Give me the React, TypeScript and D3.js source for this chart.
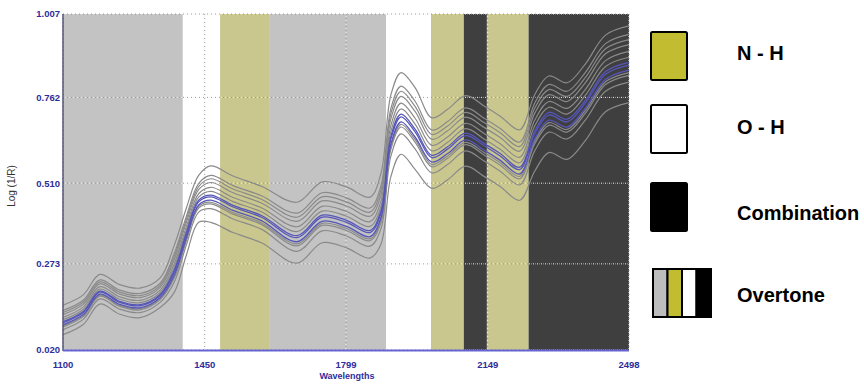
import React, { useRef, useEffect } from "react";
import * as d3 from "d3";

// wavelength grid (nm) shared by all spectra
const wavelengths = [
  1100, 1150, 1191, 1240, 1290, 1340, 1375, 1405, 1435, 1465, 1520, 1590, 1678, 1740, 1800, 1858,
  1885, 1910, 1935, 1970, 2011, 2050, 2095, 2140, 2180, 2228, 2265, 2300, 2345, 2390, 2440, 2498,
];

// gray spectra (top to bottom)
const specA = [.152, .182, .242, .212, .202, .232, .328, .438, .533, .561, .531, .501, .454, .514, .499, .469, .537, .770, .835, .790, .702, .727, .767, .737, .707, .667, .770, .825, .805, .860, .945, .972];
const specB = [.136, .166, .226, .196, .186, .216, .304, .414, .509, .533, .503, .473, .422, .482, .467, .437, .501, .730, .795, .750, .666, .691, .731, .701, .671, .631, .745, .800, .780, .835, .920, .947];
const specK = [.130, .160, .220, .190, .180, .210, .295, .405, .500, .523, .493, .463, .410, .470, .455, .425, .488, .715, .780, .735, .653, .678, .718, .688, .658, .618, .730, .785, .765, .820, .905, .932];
const specC = [.124, .154, .214, .184, .174, .204, .286, .396, .491, .512, .482, .452, .398, .458, .443, .413, .474, .700, .765, .720, .639, .664, .704, .674, .644, .604, .715, .770, .750, .805, .890, .917];
const specD = [.116, .146, .206, .176, .166, .196, .274, .384, .479, .498, .468, .438, .382, .442, .427, .397, .456, .680, .745, .700, .621, .646, .686, .656, .626, .586, .695, .750, .730, .785, .870, .897];
const specE = [.109, .139, .199, .169, .159, .189, .264, .374, .469, .486, .456, .426, .368, .428, .413, .383, .440, .663, .728, .683, .605, .630, .670, .640, .610, .570, .678, .733, .713, .768, .853, .880];
const specN = [.091, .121, .181, .151, .141, .171, .237, .347, .442, .454, .424, .394, .332, .392, .377, .347, .400, .618, .683, .638, .565, .590, .630, .600, .570, .530, .633, .688, .668, .723, .808, .835];
const specH = [.088, .118, .178, .148, .138, .168, .232, .342, .437, .449, .419, .389, .326, .386, .371, .341, .393, .610, .675, .630, .558, .583, .623, .593, .563, .523, .625, .680, .660, .715, .800, .827];
const specI = [.080, .110, .170, .140, .130, .160, .220, .330, .425, .435, .405, .375, .310, .370, .355, .325, .375, .590, .655, .610, .540, .565, .605, .575, .545, .505, .605, .660, .640, .695, .780, .807];
const specJ = [.065, .095, .155, .125, .115, .145, .190, .300, .395, .395, .365, .335, .275, .335, .320, .290, .330, .530, .595, .550, .495, .520, .560, .530, .500, .460, .545, .600, .580, .635, .720, .747];

// blue spectra (around the mean)
const specF = [.103, .133, .193, .163, .153, .183, .255, .365, .460, .475, .445, .415, .356, .416, .401, .371, .427, .648, .713, .668, .592, .617, .657, .627, .597, .557, .663, .718, .698, .753, .838, .865];
const specM = [.100, .130, .190, .160, .150, .180, .250, .360, .455, .470, .440, .410, .350, .410, .395, .365, .420, .640, .705, .660, .585, .610, .650, .620, .590, .550, .655, .710, .690, .745, .830, .857];
const specG = [.094, .124, .184, .154, .144, .174, .241, .351, .446, .460, .430, .400, .338, .398, .383, .353, .407, .625, .690, .645, .572, .597, .637, .607, .577, .537, .640, .695, .675, .730, .815, .842];

const graySpectra = [specA, specB, specK, specC, specD, specE, specN, specH, specI, specJ];
const blueSpectra = [specF, specM, specG];

// absorption bands
const bandStarts = [1100, 1396, 1488, 1609, 1898, 2009, 2090, 2147, 2250];
const bandEnds = [1396, 1488, 1609, 1898, 2009, 2090, 2147, 2250, 2498];
const bandTypes = ["overtone", "oh", "nh", "overtone", "oh", "nh", "comb", "nh", "comb"];

const xTicks = [1100, 1450, 1799, 2149, 2498];
const yTicks = [0.02, 0.273, 0.51, 0.762, 1.007];

const legendLabels = ["N - H", "O - H", "Combination", "Overtone"];

const bandColor = { overtone: "#c3c3c3", oh: "#ffffff", nh: "#c9c78d", comb: "#3f3f3f" };

const App = () => {
  const ref = useRef(null);
  const width = 864;
  const height = 384;

  useEffect(() => {
    d3.select(ref.current).select("svg").remove();

    const svg = d3
      .select(ref.current)
      .append("svg")
      .attr("width", width)
      .attr("height", height)
      .style("display", "block")
      .style("background", "#fff");

    const x = d3.scaleLinear().domain([1100, 2498]).range([63, 629]);
    const y = d3.scaleLinear().domain([0.02, 1.007]).range([350, 14]);

    // bands
    svg
      .selectAll("rect.band")
      .data(bandTypes)
      .join("rect")
      .attr("class", "band")
      .attr("x", (d, i) => x(bandStarts[i]))
      .attr("width", (d, i) => x(bandEnds[i]) - x(bandStarts[i]))
      .attr("y", y(1.007))
      .attr("height", y(0.02) - y(1.007))
      .attr("fill", (d) => bandColor[d]);

    // dotted grid (gray + white so it shows on every band)
    const grid = svg.append("g");
    ["#9a9a9a", "#f2f2f2"].forEach((c, k) => {
      grid
        .selectAll(`line.h${k}`)
        .data(yTicks)
        .join("line")
        .attr("class", `h${k}`)
        .attr("x1", 63)
        .attr("x2", 629)
        .attr("y1", (d) => y(d))
        .attr("y2", (d) => y(d))
        .attr("stroke", c)
        .attr("stroke-width", 1)
        .attr("stroke-dasharray", "1,3")
        .attr("stroke-dashoffset", k * 2);
      grid
        .selectAll(`line.v${k}`)
        .data(xTicks)
        .join("line")
        .attr("class", `v${k}`)
        .attr("x1", (d) => x(d))
        .attr("x2", (d) => x(d))
        .attr("y1", 14)
        .attr("y2", 350)
        .attr("stroke", c)
        .attr("stroke-width", 1)
        .attr("stroke-dasharray", "1,3")
        .attr("stroke-dashoffset", k * 2);
    });

    // spectra
    svg
      .append("clipPath")
      .attr("id", "plotclip")
      .append("rect")
      .attr("x", 63)
      .attr("y", 14)
      .attr("width", 566)
      .attr("height", 336);

    const line = d3
      .line()
      .x((d, i) => x(wavelengths[i]))
      .y((d) => y(d))
      .curve(d3.curveCatmullRom.alpha(0.5));

    const lines = svg.append("g").attr("clip-path", "url(#plotclip)");
    lines
      .selectAll("path.gray")
      .data(graySpectra)
      .join("path")
      .attr("class", "gray")
      .attr("d", line)
      .attr("fill", "none")
      .attr("stroke", "#8a8a8a")
      .attr("stroke-width", 1.2);
    lines
      .selectAll("path.blue")
      .data(blueSpectra)
      .join("path")
      .attr("class", "blue")
      .attr("d", line)
      .attr("fill", "none")
      .attr("stroke", "#5656b8")
      .attr("stroke-width", 1.3);

    // axes lines
    svg
      .append("line")
      .attr("x1", 63)
      .attr("x2", 63)
      .attr("y1", 14)
      .attr("y2", 351)
      .attr("stroke", "#55557a")
      .attr("stroke-width", 1.5);
    svg
      .append("line")
      .attr("x1", 63)
      .attr("x2", 629)
      .attr("y1", 350.5)
      .attr("y2", 350.5)
      .attr("stroke", "#6464d2")
      .attr("stroke-width", 2);

    const tickFont = "'Liberation Sans', Arial, sans-serif";
    svg
      .selectAll("text.ytick")
      .data(yTicks)
      .join("text")
      .attr("class", "ytick")
      .attr("x", 60)
      .attr("y", (d) => y(d))
      .attr("dy", "0.35em")
      .attr("text-anchor", "end")
      .attr("font-family", tickFont)
      .attr("font-weight", "bold")
      .attr("font-size", 9.5)
      .attr("fill", "#2d2d9c")
      .text((d) => d.toFixed(3));

    svg
      .selectAll("text.xtick")
      .data(xTicks)
      .join("text")
      .attr("class", "xtick")
      .attr("x", (d) => x(d))
      .attr("y", 368)
      .attr("text-anchor", "middle")
      .attr("font-family", tickFont)
      .attr("font-weight", "bold")
      .attr("font-size", 9.5)
      .attr("fill", "#2d2d9c")
      .text((d) => d);

    svg
      .append("text")
      .attr("x", 347)
      .attr("y", 379)
      .attr("text-anchor", "middle")
      .attr("font-family", tickFont)
      .attr("font-weight", "bold")
      .attr("font-size", 9)
      .attr("fill", "#2d2d9c")
      .text("Wavelengths");

    svg
      .append("text")
      .attr("transform", "translate(15,186) rotate(-90)")
      .attr("text-anchor", "middle")
      .attr("font-family", tickFont)
      .attr("font-size", 10)
      .attr("fill", "#333")
      .text("Log (1/R)");

    // legend
    const legend = svg.append("g");
    const boxTops = [32, 105, 183];
    const boxFills = ["#c2bd30", "#ffffff", "#000000"];
    boxTops.forEach((t, i) => {
      legend
        .append("rect")
        .attr("x", 651)
        .attr("y", t)
        .attr("width", 36)
        .attr("height", 48)
        .attr("rx", 1.5)
        .attr("fill", boxFills[i])
        .attr("stroke", "#000")
        .attr("stroke-width", 2);
    });
    const stripeFills = ["#bdbdbd", "#c2bd30", "#ffffff", "#000000"];
    stripeFills.forEach((c, i) => {
      legend
        .append("rect")
        .attr("x", 653 + i * 14.5)
        .attr("y", 269)
        .attr("width", 14.5)
        .attr("height", 48)
        .attr("fill", c)
        .attr("stroke", "#000")
        .attr("stroke-width", 2);
    });

    const labelY = [53, 127, 213, 295];
    legend
      .selectAll("text")
      .data(legendLabels)
      .join("text")
      .attr("x", 737)
      .attr("y", (d, i) => labelY[i])
      .attr("dy", "0.36em")
      .attr("font-family", "'Liberation Sans', Arial, sans-serif")
      .attr("font-weight", "bold")
      .attr("font-size", 20)
      .attr("fill", "#000")
      .text((d) => d);
  }, []);

  return <div ref={ref} style={{ position: "absolute", left: 0, top: 0 }} />;
};

export default App;
